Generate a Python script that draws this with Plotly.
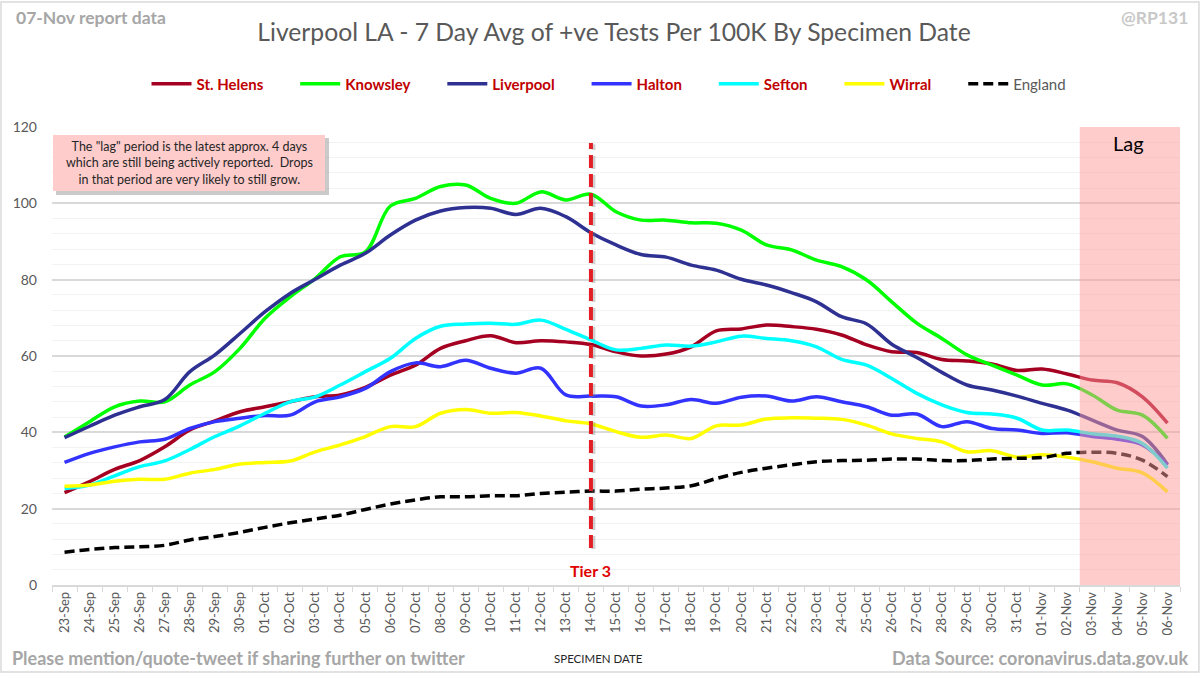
import plotly.graph_objects as go

dates = (["%02d-Sep" % d for d in range(23, 31)] +
         ["%02d-Oct" % d for d in range(1, 32)] +
         ["%02d-Nov" % d for d in range(1, 7)])

st_helens = [24.2, 27.1, 30.3, 32.6, 36.2, 40.6, 43.0, 45.4, 46.7, 48.0, 49.3, 49.8, 51.8, 55.0, 57.6,
             62.0, 64.0, 65.3, 63.5, 64.0, 63.7, 63.0, 61.1, 60.0, 60.5, 62.4, 66.6, 67.1, 68.1, 67.7,
             67.0, 65.5, 62.9, 61.1, 60.9, 59.1, 58.7, 57.9, 56.2, 56.6, 55.3, 53.7, 53.0, 49.3, 42.4]
knowsley = [38.8, 42.8, 46.7, 48.2, 48.0, 52.4, 55.9, 62.0, 69.9, 75.5, 80.3, 86.0, 87.3, 99.3, 101.3,
            104.4, 104.8, 101.3, 100.0, 103.0, 100.9, 102.4, 97.8, 95.6, 95.6, 94.9, 94.8, 93.0, 89.1, 87.8,
            85.1, 83.4, 79.9, 74.2, 68.6, 64.6, 60.3, 57.6, 55.0, 52.4, 52.7, 49.8, 45.8, 44.5, 38.4]
liverpool = [38.6, 41.6, 44.5, 46.7, 48.6, 55.9, 60.3, 65.9, 71.6, 76.4, 80.1, 83.8, 86.9, 91.7, 95.6,
             98.0, 98.9, 98.7, 97.1, 98.7, 96.5, 92.3, 89.1, 86.6, 85.9, 83.8, 82.5, 80.1, 78.6, 76.6,
             74.2, 70.3, 68.4, 63.1, 59.6, 55.7, 52.4, 51.1, 49.5, 47.6, 45.8, 43.2, 40.6, 38.9, 31.6]
halton = [32.1, 34.5, 36.2, 37.5, 38.2, 41.0, 42.8, 43.7, 44.4, 44.5, 48.0, 49.3, 51.5, 55.9, 58.2,
          57.2, 58.9, 56.8, 55.5, 56.8, 49.8, 49.5, 49.3, 46.9, 47.2, 48.6, 47.6, 49.2, 49.5, 48.2,
          49.3, 48.0, 46.7, 44.5, 44.8, 41.5, 42.8, 41.0, 40.6, 39.7, 39.9, 38.9, 38.2, 36.7, 31.4]
sefton = [25.3, 26.2, 28.6, 31.0, 32.5, 35.5, 38.9, 41.7, 45.0, 48.0, 49.3, 52.4, 55.9, 59.4, 64.6,
          67.8, 68.4, 68.6, 68.3, 69.4, 67.0, 64.2, 61.6, 62.0, 62.9, 62.6, 63.7, 65.2, 64.6, 64.0,
          62.4, 59.1, 57.6, 54.1, 50.2, 47.2, 45.2, 44.8, 43.7, 40.6, 40.6, 39.6, 39.0, 37.1, 30.6]
wirral = [25.9, 26.2, 27.2, 27.7, 27.7, 29.3, 30.3, 31.7, 32.1, 32.5, 34.9, 36.7, 38.9, 41.5, 41.5,
          45.0, 46.0, 45.0, 45.2, 44.3, 43.0, 42.2, 40.2, 38.7, 39.3, 38.4, 41.7, 41.9, 43.5, 43.8,
          43.7, 43.4, 41.9, 39.6, 38.4, 37.5, 34.9, 35.2, 33.5, 34.1, 33.5, 32.3, 30.6, 29.4, 24.4]
england = [8.6, 9.3, 9.8, 10.0, 10.4, 11.8, 12.7, 13.8, 15.1, 16.3, 17.3, 18.3, 19.8, 21.2, 22.3,
           23.1, 23.1, 23.4, 23.4, 24.0, 24.3, 24.6, 24.6, 25.1, 25.4, 26.0, 27.9, 29.5, 30.6, 31.5,
           32.3, 32.6, 32.7, 33.0, 33.0, 32.6, 32.6, 33.0, 33.2, 33.4, 34.5, 34.8, 34.5, 32.7, 28.4]

series_names = ["St. Helens", "Knowsley", "Liverpool", "Halton", "Sefton", "Wirral"]
series_values = [st_helens, knowsley, liverpool, halton, sefton, wirral]
series_colors = ["#A50021", "#00FF00", "#2E3192", "#3333FF", "#00FFFF", "#FFFF00"]

tier3_date = "14-Oct"
lag_start_index = 40.5

FONT = "Lato"
GREY = "#595959"
PAD = "\u00a0" * 7

fig = go.Figure()
for name, vals, col in zip(series_names, series_values, series_colors):
    fig.add_trace(go.Scatter(
        x=dates, y=vals, mode="lines", line=dict(color=col, width=3.5, shape="spline"),
        name="<b><span style='color:#C00000'>%s</span></b>%s" % (name, PAD)))
fig.add_trace(go.Scatter(
    x=dates, y=england, mode="lines",
    line=dict(color="black", width=3.5, dash="10px,5px", shape="spline"),
    name="<span style='color:#595959'>England</span>"))

shapes = [
    # outer border
    dict(type="rect", xref="paper", yref="paper", x0=-0.0452, x1=1.0168, y0=-0.19, y1=1.273,
         line=dict(color="#D9D9D9", width=1.5), fillcolor="rgba(0,0,0,0)", layer="below"),
    # lag region
    dict(type="rect", xref="x", yref="paper", x0=lag_start_index, x1=44.5, y0=0, y1=1,
         fillcolor="rgba(255,153,153,0.5)", line=dict(width=0), layer="above"),
    # tier 3 shadow
    dict(type="line", xref="x", yref="y", x0=tier3_date, x1=tier3_date, x0shift=0.1, x1shift=0.1,
         y0=9.4, y1=115.5, line=dict(color="rgba(120,120,120,0.35)", width=4, dash="13px,6px")),
    # tier 3 line
    dict(type="line", xref="x", yref="y", x0=tier3_date, x1=tier3_date,
         y0=9.7, y1=115.8, line=dict(color="#E31E24", width=4, dash="13px,6px")),
    # annotation box shadow
    dict(type="rect", xref="paper", yref="paper", x0=(56 - 52) / 1128, x1=(329 - 52) / 1128,
         y0=(585 - 195) / 458, y1=(585 - 138) / 458, fillcolor="rgba(150,150,150,0.5)",
         line=dict(width=0), layer="above"),
    dict(type="rect", xref="paper", yref="paper", x0=(53 - 52) / 1128, x1=(325 - 52) / 1128,
         y0=(585 - 191) / 458, y1=(585 - 135) / 458, fillcolor="#FFCCCC",
         line=dict(width=0), layer="above"),
]

annotations = [
    dict(text="The \"lag\" period is the latest approx. 4 days<br>which are still being actively reported.  Drops<br>in that period are very likely to still grow.",
         xref="paper", yref="paper", x=(189 - 52) / 1128, y=(585 - 163) / 458, showarrow=False,
         xanchor="center", yanchor="middle", align="center",
         font=dict(family=FONT, size=12.5, color="#262626")),
    dict(text="Lag", xref="paper", yref="paper", x=(1128 - 52) / 1128, y=(585 - 143) / 458,
         showarrow=False, xanchor="center", yanchor="middle",
         font=dict(family=FONT, size=20, color="#000000")),
    dict(text="<b>Tier 3</b>", xref="x", yref="paper", x=tier3_date, y=(585 - 570) / 458,
         showarrow=False, xanchor="center", yanchor="middle",
         font=dict(family=FONT, size=16, color="#E00000")),
    dict(text="<b>07-Nov report data</b>", xref="paper", yref="paper", x=(14 - 52) / 1128,
         y=(585 - 17) / 458, showarrow=False, xanchor="left", yanchor="middle",
         font=dict(family=FONT, size=17.5, color="#A6A6A6")),
    dict(text="<b>@RP131</b>", xref="paper", yref="paper", x=(1190 - 52) / 1128,
         y=(585 - 17) / 458, showarrow=False, xanchor="right", yanchor="middle",
         font=dict(family=FONT, size=17.5, color="#C8C8C8")),
    dict(text="<b>Please mention/quote-tweet if sharing further on twitter</b>", xref="paper", yref="paper",
         x=(10 - 52) / 1128, y=(585 - 658) / 458, showarrow=False, xanchor="left", yanchor="middle",
         font=dict(family=FONT, size=18, color="#A6A6A6")),
    dict(text="<b>Data Source: coronavirus.data.gov.uk</b>", xref="paper", yref="paper",
         x=(1190 - 52) / 1128, y=(585 - 658) / 458, showarrow=False, xanchor="right", yanchor="middle",
         font=dict(family=FONT, size=18, color="#A6A6A6")),
    dict(text="SPECIMEN DATE", xref="paper", yref="paper",
         x=(598 - 52) / 1128, y=(585 - 658) / 458, showarrow=False, xanchor="center", yanchor="middle",
         font=dict(family=FONT, size=11.5, color="#262626")),
]

fig.update_layout(
    width=1200, height=674,
    margin=dict(l=52, r=20, t=127, b=89),
    paper_bgcolor="white", plot_bgcolor="white",
    font=dict(family=FONT, color=GREY),
    title=dict(text="Liverpool LA - 7 Day Avg of +ve Tests Per 100K By Specimen Date",
               x=(614 / 1200), xanchor="center", y=1 - 32 / 674, yanchor="middle",
               font=dict(family=FONT, size=24.7, color=GREY)),
    legend=dict(orientation="h", x=(609 - 52) / 1128, xanchor="center", y=(585 - 84) / 458,
                yanchor="middle", font=dict(family=FONT, size=15, color=GREY),
                bgcolor="rgba(0,0,0,0)", itemwidth=40),
    shapes=shapes, annotations=annotations,
    xaxis=dict(type="category", range=[-0.5, 44.5], tickangle=-90, showgrid=False,
               showline=True, linecolor="#D9D9D9", linewidth=1.5,
               ticks="outside", tickson="boundaries", ticklen=5, tickcolor="#D9D9D9",
               tickfont=dict(family=FONT, size=13, color=GREY)),
    yaxis=dict(range=[0, 120], dtick=20, showgrid=True, gridcolor="#D9D9D9", gridwidth=1.5,
               zeroline=False, showline=False, ticklabelstandoff=14,
               minor=dict(dtick=4, showgrid=True, gridcolor="#F2F2F2", gridwidth=1),
               tickfont=dict(family=FONT, size=14, color=GREY)),
    showlegend=True,
)

fig.write_html("out.html")
